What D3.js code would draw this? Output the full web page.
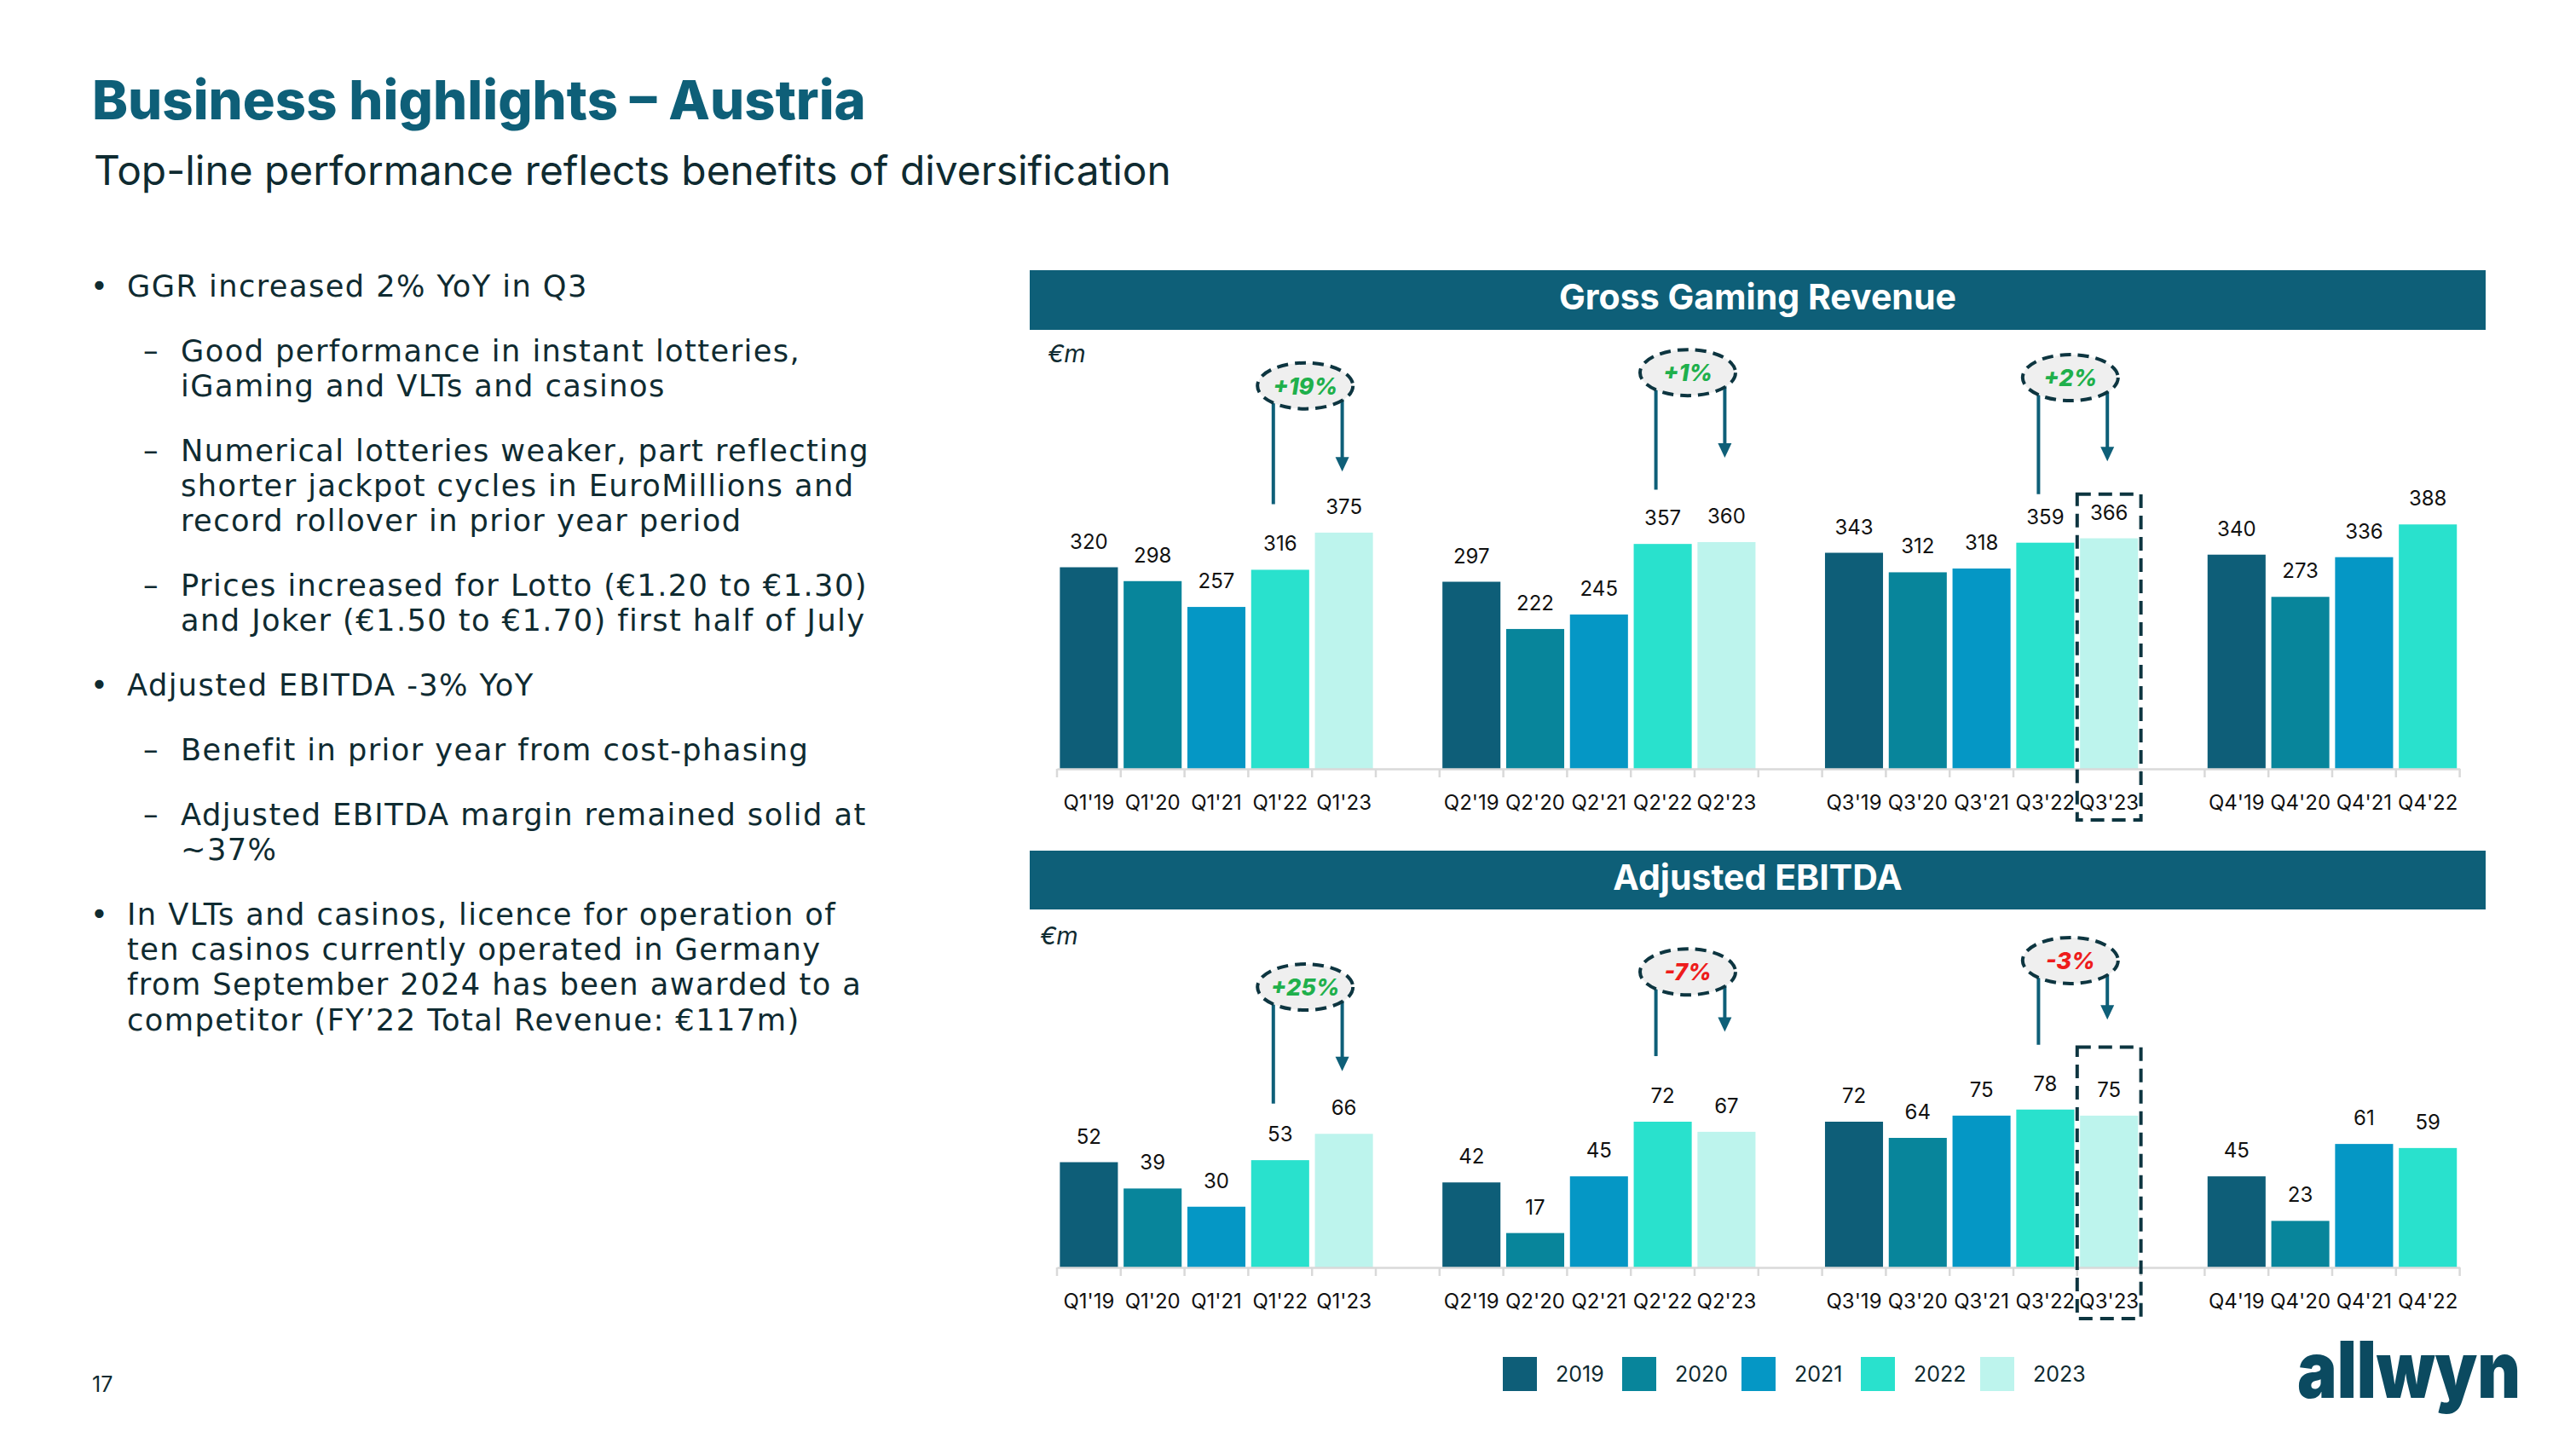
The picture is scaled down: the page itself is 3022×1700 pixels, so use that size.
<!DOCTYPE html>
<html><head><meta charset="utf-8">
<script src="https://cdn.jsdelivr.net/npm/d3@7"></script>
<style>
html,body{margin:0;padding:0;background:#fff;}
svg{display:block;}
</style></head><body>
<svg id="chart" width="3022" height="1700"></svg>
<script>
// ---------------- DATA ----------------
const years = ["2019", "2020", "2021", "2022", "2023"];
const quarters = ["Q1", "Q2", "Q3", "Q4"];
const tickLabels = [
  ["Q1'19", "Q1'20", "Q1'21", "Q1'22", "Q1'23"],
  ["Q2'19", "Q2'20", "Q2'21", "Q2'22", "Q2'23"],
  ["Q3'19", "Q3'20", "Q3'21", "Q3'22", "Q3'23"],
  ["Q4'19", "Q4'20", "Q4'21", "Q4'22"]
];
const ggrQ1 = [320, 298, 257, 316, 375];
const ggrQ2 = [297, 222, 245, 357, 360];
const ggrQ3 = [343, 312, 318, 359, 366];
const ggrQ4 = [340, 273, 336, 388];
const ebitdaQ1 = [52, 39, 30, 53, 66];
const ebitdaQ2 = [42, 17, 45, 72, 67];
const ebitdaQ3 = [72, 64, 75, 78, 75];
const ebitdaQ4 = [45, 23, 61, 59];
const ggrYoY = ["+19%", "+1%", "+2%"];
const ebitdaYoY = ["+25%", "-7%", "-3%"];
const highlightQuarter = "Q3'23";
const pageTitle = "Business highlights \u2013 Austria";
const pageSubtitle = "Top-line performance reflects benefits of diversification";
const bulletParagraphs = [
  {lvl: 1, lines: ["GGR increased 2% YoY in Q3"]},
  {lvl: 2, lines: ["Good performance in instant lotteries,", "iGaming and VLTs and casinos"]},
  {lvl: 2, lines: ["Numerical lotteries weaker, part reflecting", "shorter jackpot cycles in EuroMillions and", "record rollover in prior year period"]},
  {lvl: 2, lines: ["Prices increased for Lotto (\u20ac1.20 to \u20ac1.30)", "and Joker (\u20ac1.50 to \u20ac1.70) first half of July"]},
  {lvl: 1, lines: ["Adjusted EBITDA -3% YoY"]},
  {lvl: 2, lines: ["Benefit in prior year from cost-phasing"]},
  {lvl: 2, lines: ["Adjusted EBITDA margin remained solid at", "~37%"]},
  {lvl: 1, lines: ["In VLTs and casinos, licence for operation of", "ten casinos currently operated in Germany", "from September 2024 has been awarded to a", "competitor (FY\u201922 Total Revenue: \u20ac117m)"]}
];

// ---------------- STYLE / LAYOUT ----------------
const FONT = "Inter, 'Open Sans', Lato, sans-serif";
const BODY_FONT = "'DejaVu Sans', Inter, sans-serif";
const colors = ["#0e5e78", "#08859b", "#0597c5", "#29e1cd", "#bdf4ed"];
const TEAL = "#0e5f78";
const DARK = "#0f2b31";
const svg = d3.select("#chart").attr("font-family", FONT);

// band scale with blank slots between quarter groups
const slots = [];
quarters.forEach((q, qi) => {
  tickLabels[qi].forEach(l => slots.push(l));
  if (qi < quarters.length - 1) slots.push("gap" + qi);
});
const X0 = 1240, STEP = 74.8;
const x = d3.scaleBand().domain(slots).range([X0, X0 + slots.length * STEP])
  .paddingInner(0.09).paddingOuter(0.045);
const bw = x.bandwidth();

function fitWidth(sel, target) {
  const w = sel.node().getComputedTextLength();
  const fs = parseFloat(sel.attr("font-size"));
  const nfs = fs * target / w;
  sel.attr("font-size", nfs);
  return nfs;
}

// ---------------- HEADER TEXT ----------------
const title = svg.append("text").attr("x", 108).attr("y", 140).attr("font-size", 60)
  .attr("font-weight", 800).attr("fill", TEAL).text(pageTitle);
fitWidth(title, 908);
const sub = svg.append("text").attr("x", 110).attr("y", 217).attr("font-size", 44)
  .attr("fill", DARK).text(pageSubtitle);
fitWidth(sub, 1264);

// ---------------- BULLETS ----------------
{
  const g = svg.append("g").attr("fill", DARK).attr("font-family", BODY_FONT);
  const LH = 41.3, PG = 75.8, TARGET = 808;
  const refLine = bulletParagraphs[2].lines[0];
  const ref = g.append("text").attr("font-size", 34).text(refLine);
  const fit = fitWidth(ref, TARGET);
  const bb = ref.node().getBBox().height / fit; // line box per em
  const fs = Math.min(fit, (LH - 0.6) / bb);
  ref.attr("font-size", fs);
  const w = ref.node().getComputedTextLength();
  ref.remove();
  const ls = Math.max(0, (TARGET - w) / refLine.length);
  let y = 335.7;
  bulletParagraphs.forEach((p, pi) => {
    if (pi > 0) y += PG;
    const tx = p.lvl === 1 ? 149 : 212;
    g.append("text").attr("x", p.lvl === 1 ? 106 : 168).attr("y", y + 12)
      .attr("font-size", fs).text(p.lvl === 1 ? "\u2022" : "\u2013");
    p.lines.forEach((l, li) => {
      if (li > 0) y += LH;
      g.append("text").attr("x", tx).attr("y", y + 12).attr("font-size", fs)
        .attr("letter-spacing", ls).text(l);
    });
  });
}

// page number
svg.append("text").attr("x", 108).attr("y", 1633).attr("font-size", 25).attr("fill", DARK).text("17");

// ---------------- PANELS ----------------
function panel(o) {
  const g = svg.append("g");
  // header bar
  g.append("rect").attr("x", 1208).attr("y", o.barTop).attr("width", 2916 - 1208)
    .attr("height", o.barH).attr("fill", TEAL);
  const ht = g.append("text").attr("x", 2062).attr("y", o.barTop + 46).attr("text-anchor", "middle")
    .attr("font-size", o.headerFs).attr("font-weight", 700).attr("fill", "#fff").text(o.header);
  // unit
  g.append("text").attr("x", o.unitX).attr("y", o.unitY).attr("font-size", 29)
    .attr("font-style", "italic").attr("fill", DARK).text("\u20acm");

  const data = [];
  o.values.forEach((arr, qi) => arr.forEach((v, yi) => data.push({key: tickLabels[qi][yi], v, yi})));
  const y = o.y;

  g.selectAll("rect.bar").data(data).join("rect").attr("class", "bar")
    .attr("x", d => x(d.key)).attr("width", bw)
    .attr("y", d => y(d.v)).attr("height", d => y(0) - y(d.v))
    .attr("fill", d => colors[d.yi]);
  g.selectAll("text.val").data(data).join("text").attr("class", "val")
    .attr("x", d => x(d.key) + bw / 2).attr("y", d => y(d.v) - 22)
    .attr("text-anchor", "middle").attr("font-size", 24).attr("fill", "#111").text(d => d.v);

  // axis
  const axis = d3.axisBottom(x).tickSize(0).tickSizeOuter(0)
    .tickFormat(k => k.startsWith("gap") ? "" : k);
  const ag = g.append("g").attr("transform", `translate(0,${y(0)})`).call(axis);
  ag.attr("font-family", FONT).attr("font-size", 24);
  ag.select(".domain").attr("stroke", "#d9d9d9").attr("stroke-width", 2.5);
  ag.selectAll(".tick text").attr("dy", null).attr("y", 48).attr("fill", "#111");
  g.selectAll("line.bt").data(d3.range(slots.length + 1)).join("line").attr("class", "bt")
    .attr("x1", i => x.range()[0] + i * x.step()).attr("x2", i => x.range()[0] + i * x.step())
    .attr("y1", y(0)).attr("y2", y(0) + 10).attr("stroke", "#d9d9d9").attr("stroke-width", 2.5);

  // highlight rect
  const gap = x.step() - bw;
  g.append("rect").attr("x", x(highlightQuarter) - gap / 2).attr("width", x.step())
    .attr("y", y(o.rectTop)).attr("height", y(0) + 60 - y(o.rectTop))
    .attr("fill", "none").attr("stroke", "#0d3540").attr("stroke-width", 4).attr("stroke-dasharray", "16,9");

  // YoY annotations
  o.annos.forEach((a, qi) => {
    const c22 = x(tickLabels[qi][3]) + bw / 2, c23 = x(tickLabels[qi][4]) + bw / 2;
    const bx = (c22 + c23) / 2 - 8, by = y(a.bubble);
    const lx = c22 - 8, ax = c23 - 2, tip = y(a.arrowEnd);
    g.append("line").attr("x1", lx).attr("x2", lx).attr("y1", by).attr("y2", y(a.lineEnd))
      .attr("stroke", TEAL).attr("stroke-width", 4);
    g.append("line").attr("x1", ax).attr("x2", ax).attr("y1", by).attr("y2", tip - 14)
      .attr("stroke", TEAL).attr("stroke-width", 4);
    g.append("path").attr("d", `M${ax - 8},${tip - 17}L${ax + 8},${tip - 17}L${ax},${tip}Z`).attr("fill", TEAL);
    g.append("ellipse").attr("cx", bx).attr("cy", by).attr("rx", 56).attr("ry", 27)
      .attr("fill", "#efefef").attr("stroke", "#0d3540").attr("stroke-width", 4).attr("stroke-dasharray", "13,8");
    const t = o.yoy[qi];
    g.append("text").attr("x", bx).attr("y", by + 10).attr("text-anchor", "middle")
      .attr("font-size", 27).attr("font-weight", 800).attr("font-style", "italic")
      .attr("fill", t.startsWith("-") ? "#ee1c1c" : "#1fb04c").text(t);
  });
  return ht;
}

const yG = d3.scaleLinear().domain([0, 400]).range([902, 902 - 400 * 0.739]);
const yE = d3.scaleLinear().domain([0, 80]).range([1487, 1487 - 80 * 2.375]);

const h1 = panel({
  header: "Gross Gaming Revenue", barTop: 317, barH: 70, headerFs: 36,
  unitX: 1229, unitY: 425, values: [ggrQ1, ggrQ2, ggrQ3, ggrQ4], y: yG, yoy: ggrYoY,
  rectTop: 436,
  annos: [{bubble: 608, lineEnd: 420, arrowEnd: 472}, {bubble: 629, lineEnd: 443, arrowEnd: 494}, {bubble: 621, lineEnd: 436, arrowEnd: 488}]
});
const hfs = fitWidth(h1, 466);
const h2 = panel({
  header: "Adjusted EBITDA", barTop: 998, barH: 69, headerFs: hfs,
  unitX: 1220, unitY: 1108, values: [ebitdaQ1, ebitdaQ2, ebitdaQ3, ebitdaQ4], y: yE, yoy: ebitdaYoY,
  rectTop: 108.8,
  annos: [{bubble: 138.5, lineEnd: 81, arrowEnd: 97}, {bubble: 146, lineEnd: 104.4, arrowEnd: 116.4}, {bubble: 151.6, lineEnd: 110, arrowEnd: 122.4}]
});

// ---------------- LEGEND ----------------
const lg = svg.append("g");
years.forEach((yr, i) => {
  lg.append("rect").attr("x", 1763 + i * 140).attr("y", 1592).attr("width", 40).attr("height", 40).attr("fill", colors[i]);
  lg.append("text").attr("x", 1825 + i * 140).attr("y", 1621).attr("font-size", 25).attr("fill", DARK).text(yr);
});

// ---------------- LOGO ----------------
svg.append("text").attr("x", 2695).attr("y", 1640).attr("font-size", 92).attr("font-weight", 900)
  .attr("fill", "#0b4a60").attr("textLength", 262).attr("lengthAdjust", "spacingAndGlyphs").text("allwyn");
</script>
</body></html>
